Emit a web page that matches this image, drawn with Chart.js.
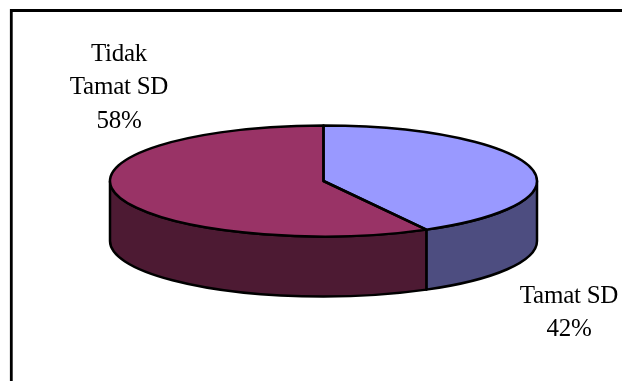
<!DOCTYPE html>
<html>
<head>
<meta charset="utf-8">
<title>Tamat SD</title>
<style>
  html, body { margin: 0; padding: 0; background: #fff; overflow: hidden; }
  canvas { display: block; }
</style>
<script src="https://cdn.jsdelivr.net/npm/chart.js@4"></script>
</head>
<body>
<canvas id="pie" width="622" height="381"></canvas>
<script>
const categories = ["Tamat SD", "Tidak Tamat SD"];
const labelLines = [["Tamat SD"], ["Tidak", "Tamat SD"]];
const values = [42, 58];
const topColors = ["#9999FF", "#993366"];
const wallColors = ["#4D4D80", "#4D1A33"];

const TILT = 55.5 / 213.5;     // vertical squash of the disc
const DEPTH = 60;              // wall height in pixels
const EDGE = 2.5;
const labelSpots = [{ x: 569, y: 296 }, { x: 119, y: 54 }];
const LINE_GAP = 33.5;

// Draws the pie as a tilted disc with an extruded wall, using the arc elements the controller laid out.
const tiltedPie = {
  id: "tiltedPie",
  beforeDatasetsDraw(chart) {
    const ctx = chart.ctx;
    const arcs = chart.getDatasetMeta(0).data;

    // Walls: only the front half of the rim (canvas angles 0 to PI) can be seen.
    arcs.forEach((arc, i) => {
      const p = arc.getProps(["x", "y", "startAngle", "endAngle", "outerRadius"], true);
      const a = Math.max(p.startAngle, 0);
      const b = Math.min(p.endAngle, Math.PI);
      if (b <= a) return;
      const ry = p.outerRadius * TILT;
      ctx.beginPath();
      ctx.ellipse(p.x, p.y, p.outerRadius, ry, 0, a, b);
      ctx.ellipse(p.x, p.y + DEPTH, p.outerRadius, ry, 0, b, a, true);
      ctx.closePath();
      ctx.fillStyle = wallColors[i];
      ctx.fill();
      ctx.lineWidth = EDGE;
      ctx.strokeStyle = "#000";
      ctx.lineJoin = "round";
      ctx.stroke();
    });

    // Top face: the arc elements filled under a squashing transform, then outlined at even width.
    arcs.forEach((arc) => {
      const p = arc.getProps(["x", "y"], true);
      ctx.save();
      ctx.translate(0, p.y);
      ctx.scale(1, TILT);
      ctx.translate(0, -p.y);
      arc.draw(ctx, chart.chartArea);
      ctx.restore();
    });
    arcs.forEach((arc) => {
      const p = arc.getProps(["x", "y", "startAngle", "endAngle", "outerRadius"], true);
      ctx.beginPath();
      ctx.moveTo(p.x, p.y);
      ctx.ellipse(p.x, p.y, p.outerRadius, p.outerRadius * TILT, 0, p.startAngle, p.endAngle);
      ctx.closePath();
      ctx.lineWidth = EDGE;
      ctx.strokeStyle = "#000";
      ctx.lineJoin = "round";
      ctx.stroke();
    });

    // Slice captions with their share of the total.
    const total = values.reduce((s, v) => s + v, 0);
    ctx.fillStyle = "#000";
    ctx.font = '25px "Liberation Serif", "Times New Roman", serif';
    ctx.letterSpacing = "-0.25px";
    ctx.textAlign = "center";
    ctx.textBaseline = "middle";
    labelLines.forEach((lines, i) => {
      const rows = lines.concat(Math.round(values[i] / total * 100) + "%");
      rows.forEach((row, r) => {
        ctx.fillText(row, labelSpots[i].x, labelSpots[i].y + r * LINE_GAP);
      });
    });

    // Chart frame along the top and left.
    ctx.beginPath();
    ctx.moveTo(11.3, 381);
    ctx.lineTo(11.3, 10.5);
    ctx.lineTo(622, 10.5);
    ctx.lineWidth = 2.8;
    ctx.strokeStyle = "#000";
    ctx.lineJoin = "miter";
    ctx.stroke();

    return false;
  }
};

new Chart(document.getElementById("pie"), {
  type: "pie",
  data: {
    labels: categories,
    datasets: [{
      data: values,
      backgroundColor: topColors,
      borderWidth: 0,
      radius: 213.5
    }]
  },
  options: {
    responsive: false,
    animation: false,
    layout: { padding: { left: 110, right: 85, top: 0, bottom: 19 } },
    plugins: { legend: { display: false }, tooltip: { enabled: false }, title: { display: false } }
  },
  plugins: [tiltedPie]
});
</script>
</body>
</html>
